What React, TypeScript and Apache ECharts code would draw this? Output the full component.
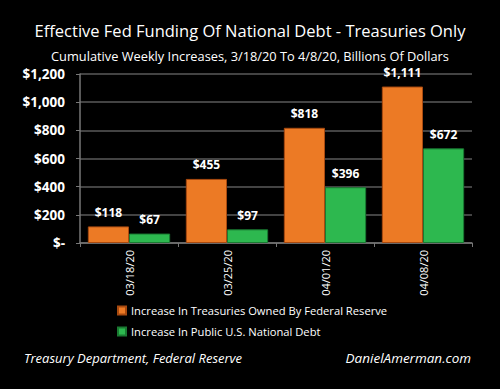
import React, { useEffect, useRef } from "react";
import * as echarts from "echarts";

const categories = ["03/18/20", "03/25/20", "04/01/20", "04/08/20"];
const fedTreasuries = [118, 455, 818, 1111];
const publicDebt = [67, 97, 396, 672];
const seriesNames = [
  "Increase In Treasuries Owned By Federal Reserve",
  "Increase In Public U.S. National Debt",
];
const titleText = "Effective Fed Funding Of National Debt - Treasuries Only";
const subtitleText = "Cumulative Weekly Increases, 3/18/20 To 4/8/20, Billions Of Dollars";
const footerLeft = "Treasury Department, Federal Reserve";
const footerRight = "DanielAmerman.com";

const FONT = "Open Sans";

function money(v: number): string {
  if (v === 0) return "$-";
  return "$" + v.toLocaleString("en-US");
}

export default function App() {
  const ref = useRef<HTMLDivElement>(null);
  useEffect(() => {
    if (!ref.current) return;
    const chart = echarts.init(ref.current, null, { renderer: "svg" });
    const labelCfg = {
      show: true,
      position: "top",
      distance: 8,
      color: "#ffffff",
      fontSize: 12,
      fontWeight: "bold",
      fontFamily: FONT,
      formatter: (p: any) => money(p.value),
    };
    chart.setOption({
      animation: false,
      backgroundColor: "#000000",
      textStyle: { fontFamily: FONT },
      title: [
        {
          text: titleText,
          left: "center",
          top: 17,
          textStyle: { color: "#ffffff", fontSize: 16.5, fontWeight: "normal", fontFamily: FONT },
        },
        {
          text: subtitleText,
          left: "center",
          top: 44,
          textStyle: { color: "#ffffff", fontSize: 12.8, fontWeight: "normal", fontFamily: FONT },
        },
      ],
      grid: { left: 80, right: 28, top: 74, height: 169, containLabel: false },
      legend: {
        orient: "vertical",
        left: 112,
        top: 300,
        itemWidth: 8,
        itemHeight: 8,
        itemGap: 10,
        icon: "rect",
        textStyle: { color: "#ffffff", fontSize: 11.2, fontFamily: FONT },
        data: seriesNames,
      },
      xAxis: {
        type: "category",
        data: categories,
        axisLine: { show: true, lineStyle: { color: "#777777", width: 1.5 } },
        axisTick: { show: true, alignWithLabel: false, length: 4, lineStyle: { color: "#777777" } },
        axisLabel: { color: "#ffffff", rotate: 90, fontSize: 11, margin: 7, fontFamily: FONT },
      },
      yAxis: {
        type: "value",
        min: 0,
        max: 1200,
        interval: 200,
        axisLine: { show: true, lineStyle: { color: "#777777", width: 1.5 } },
        axisTick: { show: true, length: 4, lineStyle: { color: "#777777" } },
        axisLabel: {
          color: "#ffffff",
          fontSize: 13.5,
          fontWeight: "bold",
          margin: 15,
          fontFamily: FONT,
          formatter: (v: number) => money(v),
        },
        splitLine: { show: true, lineStyle: { color: "#5a5a5a", width: 1.5 } },
      },
      series: [
        {
          name: seriesNames[0],
          type: "bar",
          data: fedTreasuries,
          barGap: "0%",
          barCategoryGap: "16%",
          itemStyle: {
            color: "#ec7a25",
            borderColor: "#a84a10",
            borderWidth: 1,
          },
          label: labelCfg,
        },
        {
          name: seriesNames[1],
          type: "bar",
          data: publicDebt,
          itemStyle: {
            color: "#2db84f",
            borderColor: "#1a7a32",
            borderWidth: 1,
          },
          label: labelCfg,
        },
      ],
      graphic: [
        {
          type: "text",
          left: 24,
          top: 351,
          style: {
            text: footerLeft,
            fill: "#ffffff",
            fontSize: 13,
            fontStyle: "italic",
            fontFamily: FONT,
          },
        },
        {
          type: "text",
          right: 29,
          top: 351,
          style: {
            text: footerRight,
            fill: "#ffffff",
            fontSize: 13.5,
            fontStyle: "italic",
            fontFamily: FONT,
          },
        },
      ],
    });
    return () => chart.dispose();
  }, []);
  return <div ref={ref} style={{ width: 500, height: 389, position: "absolute", left: 0, top: 0 }} />;
}
